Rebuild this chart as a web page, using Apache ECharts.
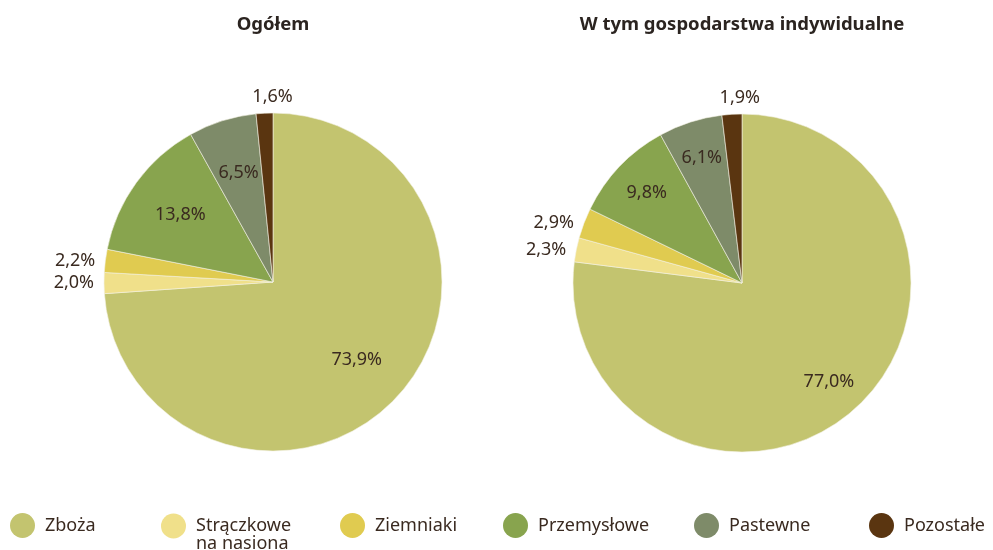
<!DOCTYPE html>
<html lang="pl">
<head>
   <meta charset="utf-8">
   <title>Struktura zasiewów</title>
   <script src="https://cdn.jsdelivr.net/npm/echarts@6/dist/echarts.min.js"></script>
   <style>
      html, body { margin: 0; padding: 0; background: #fff; }
      #chart { width: 993px; height: 550px; }
   </style>
</head>
<body>
   <div id="chart"></div>
   <script>
      var categories = ['Zboża', 'Strączkowe\nna nasiona', 'Ziemniaki', 'Przemysłowe', 'Pastewne', 'Pozostałe'];
      var titles = ['Ogółem', 'W tym gospodarstwa indywidualne'];
      var ogolem = [73.9, 2.0, 2.2, 13.8, 6.5, 1.6];
      var indywidualne = [77.0, 2.3, 2.9, 9.8, 6.1, 1.9];
      // which slices get their label outside the pie
      var outsideLabels = [false, true, true, false, false, true];

      var colors = ['#c3c46f', '#f0e08a', '#e0cb50', '#88a44e', '#7e8b69', '#5a3510'];
      var textColor = '#3a2a20';
      var legendLeft = [5, 156, 335, 498, 689, 864];
      var centers = [[273, 282], [742, 283]];
      var radius = 169;

      var myChart = echarts.init(document.getElementById('chart'), null, { renderer: 'canvas' });

      function fmt(v) {
         return v.toFixed(1).replace('.', ',') + '%';
      }

      function labelItems(values, topLen) {
         return values.map(function(v, i) {
            var item = { name: categories[i], value: v };
            if (outsideLabels[i]) {
               var isTop = i === values.length - 1;
               item.label = { position: 'outside' };
               item.labelLine = {
                  show: false,
                  length: isTop ? topLen : 0,
                  length2: isTop ? -34 : 5
               };
            }
            return item;
         });
      }

      var pies = [ogolem, indywidualne];
      var innerFrac = [0.32, 0.52];
      var series = [];

      pies.forEach(function(values, k) {
         series.push({
            name: titles[k],
            type: 'pie',
            center: centers[k],
            radius: [0, radius],
            startAngle: 90,
            clockwise: true,
            silent: true,
            label: { show: false },
            labelLine: { show: false },
            itemStyle: { borderColor: '#f4f1e4', borderWidth: 0.6 },
            data: values.map(function(v, i) {
               return { name: categories[i], value: v };
            })
         });
      });

      // transparent copies carry the labels so inside labels sit further out
      pies.forEach(function(values, k) {
         series.push({
            name: titles[k] + ' etykiety',
            type: 'pie',
            center: centers[k],
            radius: [radius * innerFrac[k], radius],
            startAngle: 90,
            clockwise: true,
            silent: true,
            z: 5,
            itemStyle: { color: 'rgba(0,0,0,0)', borderWidth: 0 },
            label: {
               show: true,
               position: 'inside',
               color: textColor,
               fontSize: 18,
               fontFamily: 'Noto Sans',
               formatter: function(p) { return fmt(p.value); }
            },
            labelLine: { show: false },
            emphasis: { disabled: true },
            data: labelItems(values, 16)
         });
      });

      var legends = categories.map(function(c, i) {
         var twoLines = c.indexOf('\n') >= 0;
         return {
            data: [c],
            left: legendLeft[i],
            top: twoLines ? 494 : 508,
            icon: 'circle',
            itemWidth: 25,
            itemHeight: 25,
            itemGap: 0,
            selectedMode: false,
            itemStyle: { borderWidth: 0 },
            // empty first line keeps "Strączkowe" level with the dot
            formatter: function(name) { return twoLines ? '\n' + name : name; },
            textStyle: {
               color: textColor,
               fontSize: 18,
               fontFamily: 'Noto Sans',
               lineHeight: 18,
               padding: [0, 0, 0, 5]
            }
         };
      });

      var titleStyle = { fontSize: 18.5, fontWeight: 'bold', color: '#2b2420', fontFamily: 'Noto Sans' };

      var option = {
         color: colors,
         animation: false,
         title: titles.map(function(t, k) {
            return { text: t, left: centers[k][0] - 5, top: 10, textAlign: 'center', textStyle: titleStyle };
         }),
         legend: legends,
         series: series
      };

      myChart.setOption(option);
   </script>
</body>
</html>
